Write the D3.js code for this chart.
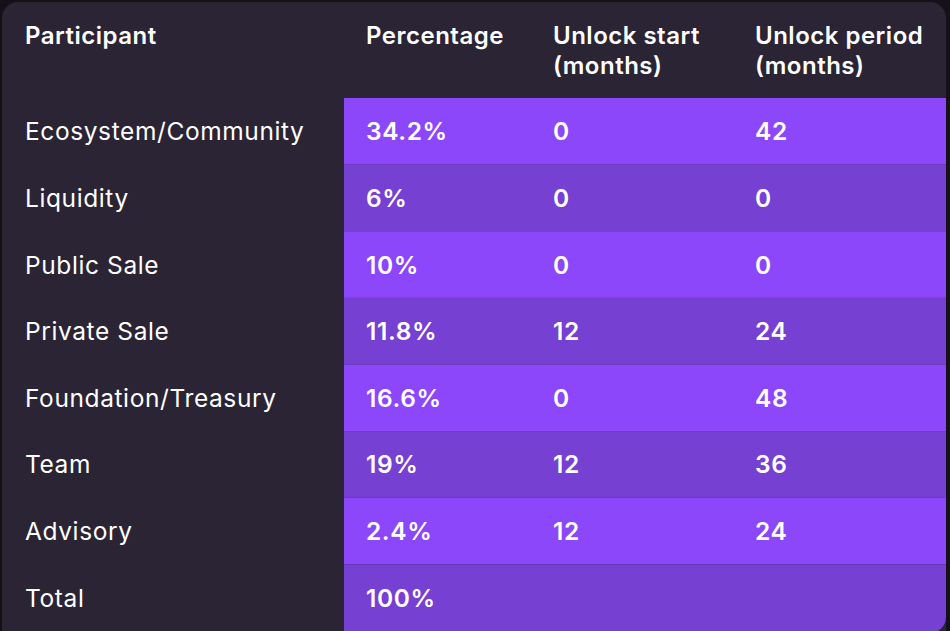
<!DOCTYPE html>
<html><head><meta charset="utf-8">
<script src="https://cdn.jsdelivr.net/npm/d3@7"></script>
<style>body{margin:0;background:#141218;}svg{display:block;font-family:Inter,"Noto Sans",sans-serif;}</style>
</head><body><svg width="950" height="631"></svg>
<script>
const headers = [["Participant"], ["Percentage"], ["Unlock start", "(months)"], ["Unlock period", "(months)"]];
const participants = ["Ecosystem/Community", "Liquidity", "Public Sale", "Private Sale", "Foundation/Treasury", "Team", "Advisory", "Total"];
const percentages = ["34.2%", "6%", "10%", "11.8%", "16.6%", "19%", "2.4%", "100%"];
const unlockStart = ["0", "0", "0", "12", "0", "12", "12", ""];
const unlockPeriod = ["42", "0", "0", "24", "48", "36", "24", ""];

const svg = d3.select("svg");
const W = 950, H = 631, headerH = 98;

svg.append("rect").attr("x", 2).attr("y", 2).attr("width", W - 6).attr("height", H + 20)
  .attr("rx", 16).attr("fill", "#2a2434");

const colX = [25, 366, 553, 755];
const y = d3.scaleBand().domain(d3.range(participants.length)).range([headerH, H]);

svg.append("clipPath").attr("id", "c").append("rect")
  .attr("x", 2).attr("y", 2).attr("width", W - 6).attr("height", H).attr("rx", 16);

const body = svg.append("g").attr("clip-path", "url(#c)");
body.selectAll("rect.row").data(participants).join("rect")
  .attr("x", 344).attr("y", (d, i) => y(i)).attr("width", W - 344).attr("height", y.bandwidth())
  .attr("fill", (d, i) => i % 2 === 0 ? "#8c47fa" : "#7640d2");

headers.forEach((h, j) => {
  const t = svg.append("text").attr("x", colX[j]).attr("y", 44)
    .attr("fill", "#fff").attr("font-size", 24).attr("font-weight", 600)
    .attr("letter-spacing", 0.5);
  h.forEach((line, k) => t.append("tspan").attr("x", colX[j]).attr("dy", k ? 30 : 0).text(line));
});

const cols = [participants, percentages, unlockStart, unlockPeriod];
cols.forEach((col, j) => {
  svg.append("g").selectAll("text").data(col).join("text")
    .attr("x", colX[j]).attr("y", (d, i) => y(i) + y.bandwidth() / 2 + 9)
    .attr("fill", "#fff").attr("font-size", 24.5)
    .attr("letter-spacing", 0.6)
    .attr("font-weight", j === 0 ? 400 : 600)
    .text(d => d);
});
</script></body></html>
